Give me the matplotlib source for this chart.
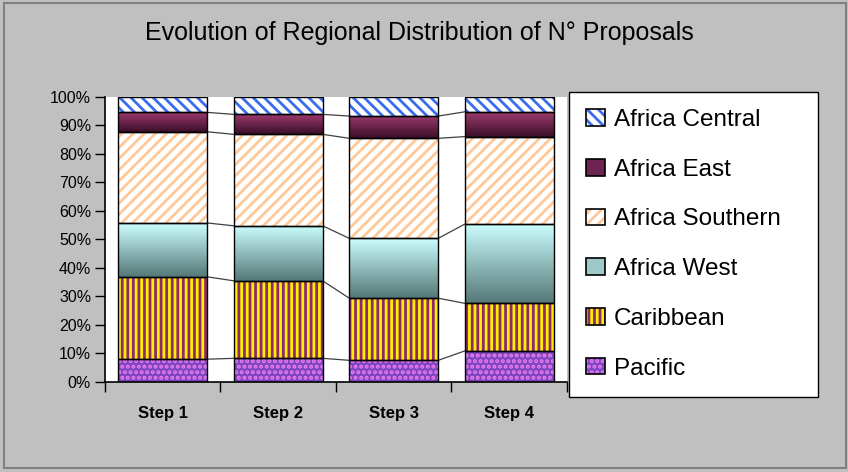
import numpy as np
import matplotlib.pyplot as plt
from matplotlib.patches import Patch, Rectangle
from matplotlib.colors import LinearSegmentedColormap

plt.rcParams["font.family"] = ["Liberation Sans", "DejaVu Sans"]
plt.rcParams["hatch.linewidth"] = 2.0

steps = ["Step 1", "Step 2", "Step 3", "Step 4"]
regions = ["Pacific", "Caribbean", "Africa West", "Africa Southern",
           "Africa East", "Africa Central"]

# percent of proposals per step (bottom to top of the stack)
pacific = [8.0, 8.3, 7.6, 10.9]
caribbean = [28.9, 27.2, 21.8, 16.7]
africa_west = [18.9, 19.3, 21.0, 27.8]
africa_southern = [32.0, 32.1, 35.1, 30.7]
africa_east = [6.8, 7.0, 7.8, 8.7]
africa_central = [5.4, 6.1, 6.7, 5.2]

series = [pacific, caribbean, africa_west, africa_southern,
          africa_east, africa_central]

# face colour, hatch, hatch colour, gradient (top, bottom) or None
styles = {
    "Pacific": ("#7c46c0", "...", "#ee7cee", None),
    "Caribbean": ("#8c2a6c", "|||", "#ffee00", None),
    "Africa West": ("#9fc8c8", None, None, ("#ccffff", "#557777")),
    "Africa Southern": ("white", "///", "#ffc898", None),
    "Africa East": ("#6e2450", None, None, ("#9e3a6e", "#3a0f28")),
    "Africa Central": ("white", "\\\\\\", "#3a6cf0", None),
}

fig = plt.figure(figsize=(8.48, 4.72), dpi=100, facecolor="#c0c0c0")
ax = fig.add_axes([0.1238, 0.1907, 0.6686 - 0.1238, 0.7945 - 0.1907])
ax.set_facecolor("white")

x = np.arange(len(steps))
width = 0.77
bottom = np.zeros(len(steps))
tops = []
for name, vals in zip(regions, series):
    vals = np.array(vals)
    face, hatch, hcol, grad = styles[name]
    if grad is None:
        ax.bar(x, vals, width, bottom=bottom, facecolor=face,
               edgecolor=hcol, hatch=hatch, linewidth=0, zorder=2)
    else:
        cmap = LinearSegmentedColormap.from_list(name, [grad[1], grad[0]])
        grd = np.linspace(0, 1, 256).reshape(-1, 1)
        for xi, b, v in zip(x, bottom, vals):
            ax.imshow(grd, extent=[xi - width / 2, xi + width / 2, b, b + v],
                      origin="lower", aspect="auto", cmap=cmap, zorder=2)
    ax.bar(x, vals, width, bottom=bottom, fill=False, edgecolor="black",
           linewidth=1.0, zorder=3)
    bottom = bottom + vals
    tops.append(bottom.copy())

# series lines between bars
for lvl in tops[:-1]:
    for i in range(len(steps) - 1):
        ax.plot([x[i] + width / 2, x[i + 1] - width / 2], [lvl[i], lvl[i + 1]],
                color="#404040", linewidth=0.9, zorder=1)

ax.set_xlim(-0.5, len(steps) - 0.5)
ax.set_ylim(0, 100)
ax.set_yticks(np.arange(0, 101, 10))
ax.set_yticklabels([f"{v}%" for v in range(0, 101, 10)], fontsize=11.5)
ax.set_xticks(x)
ax.set_xticklabels(steps, fontsize=12, fontweight="bold")
ax.set_xticks(np.arange(-0.5, len(steps)), minor=True)
ax.tick_params(axis="x", which="major", length=0, pad=17)
ax.tick_params(axis="x", which="minor", length=7, width=1, direction="out")
ax.tick_params(axis="y", length=7, width=1, direction="out", pad=3)
for s in ["top", "right"]:
    ax.spines[s].set_visible(False)
for s in ["left", "bottom"]:
    ax.spines[s].set_linewidth(1.2)

handles = []
for name in regions[::-1]:
    face, hatch, hcol, grad = styles[name]
    if grad is None:
        h = (Patch(facecolor=face, edgecolor=hcol, hatch=hatch, linewidth=0),
             Patch(fill=False, edgecolor="black", linewidth=1.2))
    else:
        h = Patch(facecolor=face, edgecolor="black", linewidth=1.2)
    handles.append(h)

leg = fig.legend(handles, regions[::-1], loc="upper left",
                 bbox_to_anchor=(0.671, 0.805, 0.2935, 0.0),
                 mode="expand", fontsize=17.5, frameon=True, fancybox=False,
                 framealpha=1, edgecolor="black", borderaxespad=0,
                 handlelength=0.8, handleheight=0.68, handletextpad=0.35,
                 labelspacing=1.14, borderpad=0.7)
leg.get_frame().set_linewidth(1.0)

fig.text(0.494, 0.930, "Evolution of Regional Distribution of N\u00b0 Proposals",
         ha="center", va="center", fontsize=18)

fig.patches.append(Rectangle((4 / 848, 4 / 472), 842 / 848, 465 / 472,
                             transform=fig.transFigure, fill=False,
                             edgecolor="#808080", linewidth=1.5))

fig.savefig("out.png", dpi=100, facecolor=fig.get_facecolor())
